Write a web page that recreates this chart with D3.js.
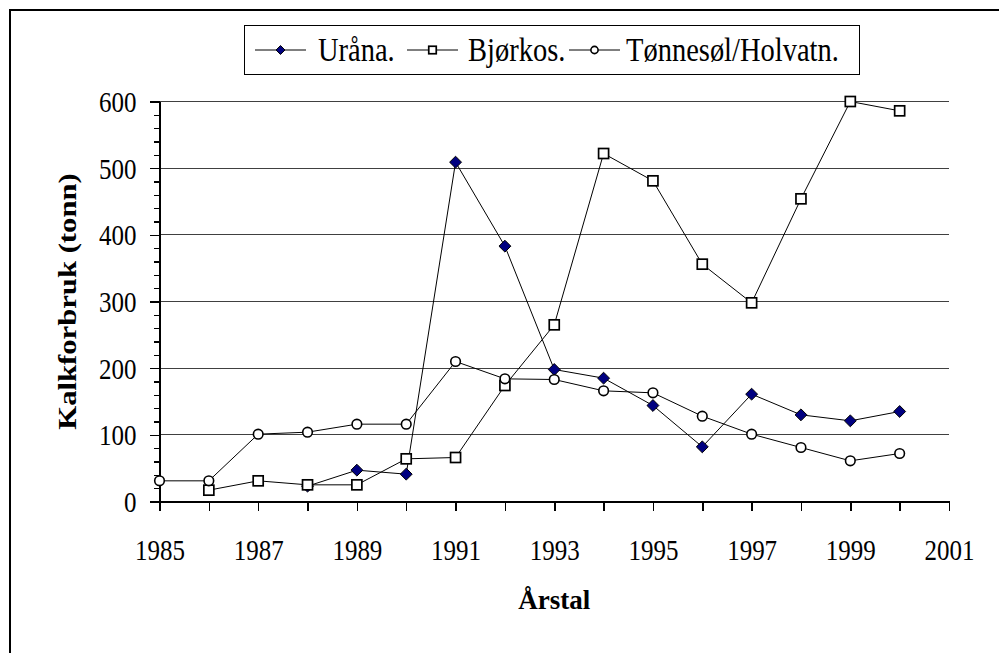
<!DOCTYPE html>
<html lang="no">
<head>
  <meta charset="utf-8">
  <title>Kalkforbruk</title>
  <script src="https://cdn.jsdelivr.net/npm/d3@7"></script>
  <style>
    body { margin: 0; background: #fff; }
    svg { display: block; }
    .axis path, .axis line { stroke: #000; stroke-width: 1.5; shape-rendering: crispEdges; }
    .axis text { font-family: "Liberation Serif", "Times New Roman", serif; font-size: 25px; fill: #000; }
    .grid line { stroke: #404040; stroke-width: 1; shape-rendering: crispEdges; }
    .line { fill: none; stroke: #000; stroke-width: 1; }
    .title { font-family: "Liberation Serif", "Times New Roman", serif; font-size: 26px; font-weight: bold; }
    .legend text { font-family: "Liberation Serif", "Times New Roman", serif; font-size: 28.5px; }
  </style>
</head>
<body>
<script>

  // data
  var years = [1985, 1986, 1987, 1988, 1989, 1990, 1991, 1992, 1993, 1994, 1995, 1996, 1997, 1998, 1999, 2000];
  var urana = [null, null, null, 23, 47, 41, 509, 383, 198, 185, 144, 82, 161, 130, 121, 135];
  var bjorkos = [null, 17, 31, 25, 25, 64, 66, 174, 265, 522, 481, 356, 298, 454, 600, 586];
  var tonnesol = [31, 31, 101, 104, 116, 116, 210, 184, 183, 166, 163, 128, 101, 81, 61, 72];
  var seriesNames = ["Uråna.", "Bjørkos.", "Tønnesøl/Holvatn."];
  var xTicks = [1985, 1987, 1989, 1991, 1993, 1995, 1997, 1999, 2001];
  var yTicks = [0, 100, 200, 300, 400, 500, 600];

  //Width and height
  var w = 999;
  var h = 653;
  var plotLeft = 159.5, plotRight = 949, plotTop = 101.5, plotBottom = 501.5;
  var stretch = 1.15; // text in the original is a bit taller than it is wide

  var svg = d3.select("body")
    .append("svg")
    .attr("width", w)
    .attr("height", h);

  // outer frame (runs off the right and bottom edge)
  svg.append("rect")
    .attr("x", 10)
    .attr("y", 10)
    .attr("width", 1100)
    .attr("height", 800)
    .attr("fill", "none")
    .attr("stroke", "#000")
    .attr("stroke-width", 2);

  var xScale = d3.scaleLinear().domain([1985, 2001]).range([plotLeft, plotRight]);
  var yScale = d3.scaleLinear().domain([0, 600]).range([plotBottom, plotTop]);

  // gridlines
  svg.append("g")
    .attr("class", "grid")
    .selectAll("line")
    .data(yTicks.filter(function (d) { return d > 0; }))
    .enter()
    .append("line")
    .attr("x1", plotLeft)
    .attr("x2", plotRight)
    .attr("y1", function (d) { return yScale(d); })
    .attr("y2", function (d) { return yScale(d); });

  // y minor ticks
  var yAxisMinor = d3.axisLeft(yScale)
    .tickValues(d3.range(0, 601, 20))
    .tickSize(6)
    .tickFormat("");
  svg.append("g")
    .attr("class", "axis")
    .attr("transform", "translate(" + plotLeft + ",0)")
    .call(yAxisMinor)
    .select(".domain").remove();

  var yAxis = d3.axisLeft(yScale)
    .tickValues(yTicks)
    .tickSize(10)
    .tickSizeOuter(0);
  svg.append("g")
    .attr("class", "axis")
    .attr("transform", "translate(" + plotLeft + ",0)")
    .call(yAxis)
    .selectAll("text")
    .attr("x", null)
    .attr("dy", null)
    .attr("transform", "translate(-23,10) scale(1," + stretch + ")");

  // x ticks every year, labels every other year
  var xAxisMinor = d3.axisBottom(xScale)
    .tickValues(d3.range(1985, 2002))
    .tickSize(9)
    .tickFormat("");
  svg.append("g")
    .attr("class", "axis")
    .attr("transform", "translate(0," + plotBottom + ")")
    .call(xAxisMinor);

  var xAxis = d3.axisBottom(xScale)
    .tickValues(xTicks)
    .tickSize(0)
    .tickFormat(d3.format("d"));
  var gx = svg.append("g")
    .attr("class", "axis")
    .attr("transform", "translate(0," + plotBottom + ")")
    .call(xAxis);
  gx.select(".domain").remove();
  gx.selectAll("text")
    .attr("y", null)
    .attr("dy", null)
    .attr("transform", "translate(0,58) scale(1," + stretch + ")");

  // axis titles
  svg.append("text")
    .attr("class", "title")
    .attr("text-anchor", "middle")
    .attr("transform", "translate(" + ((plotLeft + plotRight) / 2) + ",609) scale(1.04,1.05)")
    .text("Årstal");

  svg.append("text")
    .attr("class", "title")
    .attr("text-anchor", "middle")
    .attr("transform", "translate(76," + ((plotTop + plotBottom) / 2) + ") rotate(-90) scale(1.18,1)")
    .text("Kalkforbruk (tonn)");

  // lines
  var allSeries = [urana, bjorkos, tonnesol];
  var line = d3.line()
    .defined(function (d) { return d != null; })
    .x(function (d, i) { return xScale(years[i]); })
    .y(function (d) { return yScale(d); });

  allSeries.forEach(function (s) {
    svg.append("path")
      .datum(s)
      .attr("class", "line")
      .attr("d", line);
  });

  function drawMarker(g, kind, x, y, small) {
    var k = small ? 0.75 : 1;
    if (kind === 0) {
      g.append("path")
        .attr("d", d3.symbol().type(d3.symbolDiamond2).size(90 * k * k)())
        .attr("transform", "translate(" + x + "," + y + ")")
        .attr("fill", "#000080")
        .attr("stroke", "#000")
        .attr("stroke-width", 1);
    } else if (kind === 1) {
      var s = 10 * k;
      g.append("rect")
        .attr("x", x - s / 2)
        .attr("y", y - s / 2)
        .attr("width", s)
        .attr("height", s)
        .attr("fill", "#fff")
        .attr("stroke", "#000")
        .attr("stroke-width", 1.7);
    } else {
      g.append("circle")
        .attr("cx", x)
        .attr("cy", y)
        .attr("r", 4.8 * k)
        .attr("fill", "#fff")
        .attr("stroke", "#000")
        .attr("stroke-width", 1.6);
    }
  }

  var markers = svg.append("g");
  [0, 1, 2].forEach(function (k) {
    allSeries[k].forEach(function (v, i) {
      if (v != null) drawMarker(markers, k, xScale(years[i]), yScale(v), false);
    });
  });

  // legend
  var legend = svg.append("g").attr("class", "legend");
  legend.append("rect")
    .attr("x", 244.5)
    .attr("y", 25.5)
    .attr("width", 615)
    .attr("height", 49)
    .attr("fill", "#fff")
    .attr("stroke", "#000")
    .attr("stroke-width", 1);

  var legendLineX = [255, 407, 569];
  var legendTextX = [318, 468, 626];
  seriesNames.forEach(function (name, k) {
    var lx = legendLineX[k];
    legend.append("line")
      .attr("x1", lx)
      .attr("x2", lx + 51)
      .attr("y1", 50)
      .attr("y2", 50)
      .attr("stroke", "#000")
      .attr("stroke-width", 1);
    drawMarker(legend, k, lx + 25.5, 50, true);
    legend.append("text")
      .attr("transform", "translate(" + legendTextX[k] + ",61) scale(1," + stretch + ")")
      .text(name);
  });

</script>
</body>
</html>
